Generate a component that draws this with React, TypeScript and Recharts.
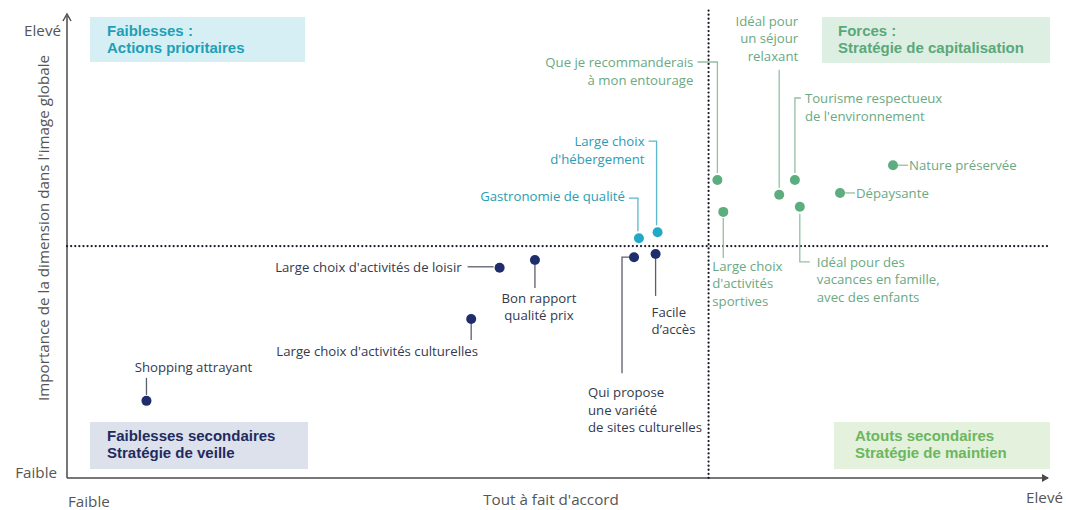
import { ReferenceLine, Scatter, ScatterChart, XAxis, YAxis } from 'recharts';

const FONT = '"Open Sans", Lato, sans-serif';
const BOX_FONT = '"Liberation Sans", Arial, sans-serif';

// Faiblesses (bleu foncé)
const navyNames = [
  'Shopping attrayant',
  "Large choix d'activités culturelles",
  "Large choix d'activités de loisir",
  'Bon rapport qualité prix',
  'Qui propose une variété de sites culturelles',
  "Facile d'accès",
];
const navyX = [8.1, 41.2, 44.1, 47.7, 57.8, 60.0];
const navyY = [16.7, 34.4, 45.5, 47.2, 47.8, 48.5];

// Faiblesses prioritaires (cyan)
const cyanNames = ['Gastronomie de qualité', "Large choix d'hébergement"];
const cyanX = [58.3, 60.2];
const cyanY = [51.9, 53.2];

// Forces (vert)
const greenNames = [
  'Que je recommanderais à mon entourage',
  "Large choix d'activités sportives",
  'Idéal pour un séjour relaxant',
  "Tourisme respectueux de l'environnement",
  'Idéal pour des vacances en famille, avec des enfants',
  'Dépaysante',
  'Nature préservée',
];
const greenX = [66.3, 66.9, 72.6, 74.2, 74.7, 78.8, 84.2];
const greenY = [64.5, 57.6, 61.3, 64.5, 58.7, 61.7, 67.7];

const thresholdX = 65.4;
const thresholdY = 50.2;

const toPoints = (names: string[], xs: number[], ys: number[]) =>
  names.map((name, i) => ({ name, x: xs[i], y: ys[i] }));

// label placement relative to the dot (pixels)
type Callout = {
  lines: string[];
  dx: number;
  dy: number;
  anchor: 'start' | 'middle' | 'end';
  path: number[][];
};
const CALLOUTS: Record<string, Callout> = {
  'Shopping attrayant': { lines: ['Shopping attrayant'], dx: 47, dy: -34, anchor: 'middle', path: [[0, -23], [0, -6]] },
  "Large choix d'activités culturelles": { lines: ["Large choix d'activités culturelles"], dx: -94, dy: 32, anchor: 'middle', path: [[0, 4], [0, 21]] },
  "Large choix d'activités de loisir": { lines: ["Large choix d'activités de loisir"], dx: -38, dy: -1, anchor: 'end', path: [[-32, -1], [-6, -1]] },
  'Bon rapport qualité prix': { lines: ['Bon rapport', 'qualité prix'], dx: 4, dy: 38, anchor: 'middle', path: [[0, 5], [0, 28]] },
  'Qui propose une variété de sites culturelles': { lines: ['Qui propose', 'une variété', 'de sites culturelles'], dx: -46, dy: 135, anchor: 'start', path: [[-5, 0], [-12, 0], [-12, 116]] },
  "Facile d'accès": { lines: ['Facile', 'd’accès'], dx: -4, dy: 58, anchor: 'start', path: [[0, 5], [0, 42]] },
  'Gastronomie de qualité': { lines: ['Gastronomie de qualité'], dx: -14, dy: -42, anchor: 'end', path: [[-10, -40], [-1, -40], [-1, -7]] },
  "Large choix d'hébergement": { lines: ['Large choix', "d'hébergement"], dx: -13, dy: -91, anchor: 'end', path: [[-9, -91], [-1, -91], [-1, -7]] },
  'Que je recommanderais à mon entourage': { lines: ['Que je recommanderais', 'à mon entourage'], dx: -24, dy: -118, anchor: 'end', path: [[-20, -118], [0, -118], [0, -7]] },
  "Large choix d'activités sportives": { lines: ['Large choix', "d'activités", 'sportives'], dx: -11, dy: 54, anchor: 'start', path: [[0, 6], [0, 46]] },
  'Idéal pour un séjour relaxant': { lines: ['Idéal pour', 'un séjour', 'relaxant'], dx: 19, dy: -174, anchor: 'end', path: [[0, -125], [0, -7]] },
  "Tourisme respectueux de l'environnement": { lines: ['Tourisme respectueux', "de l'environnement"], dx: 10, dy: -82, anchor: 'start', path: [[0, -7], [0, -82], [6, -82]] },
  'Idéal pour des vacances en famille, avec des enfants': { lines: ['Idéal pour des', 'vacances en famille,', 'avec des enfants'], dx: 17, dy: 55, anchor: 'start', path: [[0, 7], [0, 55], [10, 55]] },
  'Dépaysante': { lines: ['Dépaysante'], dx: 16, dy: 0, anchor: 'start', path: [[5, 0], [15, 0]] },
  'Nature préservée': { lines: ['Nature préservée'], dx: 16, dy: 0, anchor: 'start', path: [[5, 0], [15, 0]] },
};

const LINE_H = 17.5;

function makeDot(fill: string, textColor: string, lineColor: string) {
  return (p: any) => {
    const { cx, cy, payload } = p;
    const c = CALLOUTS[payload.name];
    return (
      <g>
        {c && (
          <polyline
            points={c.path.map(([dx, dy]) => `${cx + dx},${cy + dy}`).join(' ')}
            fill="none"
            stroke={lineColor}
            strokeWidth={1.3}
          />
        )}
        <circle cx={cx} cy={cy} r={5} fill={fill} />
        {c &&
          c.lines.map((l, i) => (
            <text
              key={i}
              x={cx + c.dx}
              y={cy + c.dy + i * LINE_H}
              textAnchor={c.anchor}
              dominantBaseline="central"
              fontSize={13.2}
              fontFamily={FONT}
              fill={textColor}
            >
              {l}
            </text>
          ))}
      </g>
    );
  };
}

const abs = (left: number, top: number, extra: any = {}) => ({
  position: 'absolute' as const,
  left,
  top,
  whiteSpace: 'nowrap' as const,
  ...extra,
});

function Box({ x, y, w, h, bg, color, lines, tx }: any) {
  return (
    <div style={abs(x, y, { width: w, height: h, background: bg })}>
      <div
        style={abs(tx - x, 5, {
          color,
          fontFamily: BOX_FONT,
          fontSize: 15,
          fontWeight: 700,
          lineHeight: '17.4px',
        })}
      >
        {lines[0]}
        <br />
        {lines[1]}
      </div>
    </div>
  );
}

export default function App() {
  const axisText = { color: '#555', fontSize: 15.2, lineHeight: '16px' };
  return (
    <div style={{ position: 'absolute', left: 0, top: 0, width: 1066, height: 510, fontFamily: FONT, background: '#fff' }}>
      <Box x={90} y={17} w={215} h={45} bg="#d6eff4" color="#1f9fb7" tx={107} lines={['Faiblesses :', 'Actions prioritaires']} />
      <Box x={822} y={17} w={228} h={46} bg="#ddefe3" color="#5aa87a" tx={838} lines={['Forces :', 'Stratégie de capitalisation']} />
      <Box x={90} y={422} w={218} h={47} bg="#dde1ec" color="#1f2b5e" tx={107} lines={['Faiblesses secondaires', 'Stratégie de veille']} />
      <Box x={834} y={422} w={216} h={47} bg="#e3f1dd" color="#6cb65e" tx={855} lines={['Atouts secondaires', 'Stratégie de maintien']} />

      <div style={{ position: 'absolute', left: 0, top: 0 }}>
        <ScatterChart width={1066} height={510} margin={{ top: 16, right: 18, bottom: 32, left: 67 }}>
          <XAxis type="number" dataKey="x" domain={[0, 100]} height={0} tick={false} tickLine={false} axisLine={false} />
          <YAxis type="number" dataKey="y" domain={[0, 100]} width={0} tick={false} tickLine={false} axisLine={false} />
          <ReferenceLine x={0} stroke="#4a4a4a" strokeWidth={1.5} />
          <ReferenceLine y={0} stroke="#4a4a4a" strokeWidth={1.5} />
          <ReferenceLine
            segment={[
              { x: thresholdX, y: 0 },
              { x: thresholdX, y: 101.5 },
            ]}
            ifOverflow="visible"
            stroke="#1a1a2a"
            strokeWidth={2.2}
            strokeDasharray="0.1 4"
            strokeLinecap="round"
          />
          <ReferenceLine y={thresholdY} stroke="#1a1a2a" strokeWidth={2.2} strokeDasharray="0.1 4" strokeLinecap="round" />
          <Scatter
            data={toPoints(navyNames, navyX, navyY)}
            isAnimationActive={false}
            shape={makeDot('#1f2d6b', '#343a4e', '#5a5f6e')}
          />
          <Scatter
            data={toPoints(cyanNames, cyanX, cyanY)}
            isAnimationActive={false}
            shape={makeDot('#22a9c8', '#2c9db3', '#5bb8c9')}
          />
          <Scatter
            data={toPoints(greenNames, greenX, greenY)}
            isAnimationActive={false}
            shape={makeDot('#5cae7e', '#6aa983', '#95bfa3')}
          />
        </ScatterChart>
      </div>

      <svg width={1066} height={510} style={{ position: 'absolute', left: 0, top: 0, pointerEvents: 'none' }}>
        <path d="M63,21 L67,14 L71,21" fill="none" stroke="#4a4a4a" strokeWidth={1.4} />
        <path d="M1042,474 L1049,478 L1042,482 Z" fill="#4a4a4a" />
      </svg>

      <div style={abs(0, 22, { ...axisText, width: 61, textAlign: 'right' })}>Elevé</div>
      <div style={abs(0, 464, { ...axisText, width: 57, textAlign: 'right' })}>Faible</div>
      <div style={abs(68, 493, axisText)}>Faible</div>
      <div style={abs(451, 491, { ...axisText, width: 200, textAlign: 'center' })}>Tout à fait d'accord</div>
      <div style={abs(963, 489, { ...axisText, width: 100, textAlign: 'right' })}>Elevé</div>
      <div
        style={abs(43 - 200, 228 - 8, {
          ...axisText,
          width: 400,
          textAlign: 'center',
          transform: 'rotate(-90deg)',
        })}
      >
        Importance de la dimension dans l'image globale
      </div>
    </div>
  );
}
